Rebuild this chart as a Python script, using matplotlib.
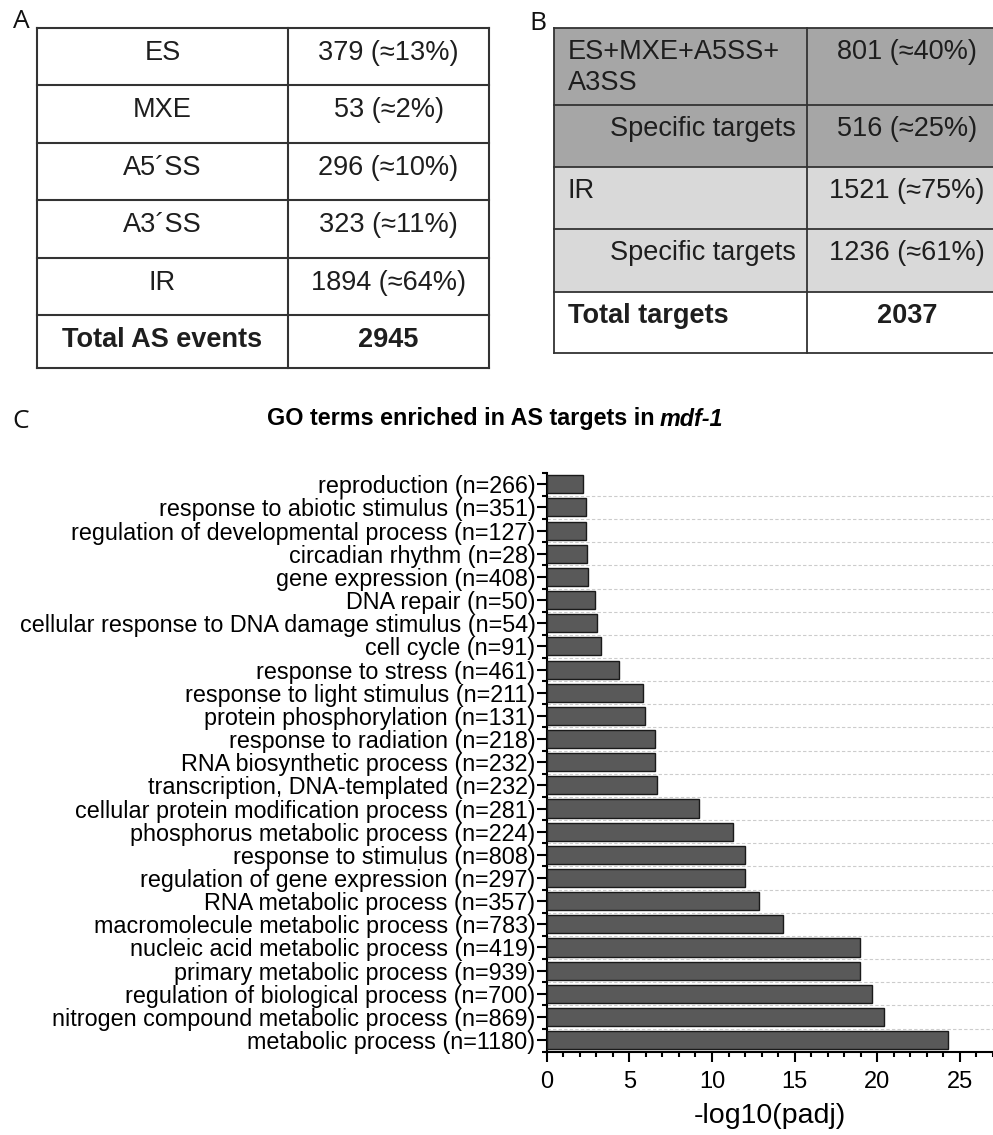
import numpy as np
import matplotlib.pyplot as plt
from matplotlib.patches import Rectangle
from matplotlib.ticker import MultipleLocator, FixedLocator

plt.rcParams['font.family'] = ['Liberation Sans', 'DejaVu Sans']

# panel A: AS events by type
events_a = ['ES', 'MXE', 'A5´SS', 'A3´SS', 'IR']
counts_a = ['379 (≈13%)', '53 (≈2%)', '296 (≈10%)', '323 (≈11%)', '1894 (≈64%)']
total_a = '2945'

# panel B: AS targets
labels_b = ['ES+MXE+A5SS+\nA3SS', 'Specific targets', 'IR', 'Specific targets']
counts_b = ['801 (≈40%)', '516 (≈25%)', '1521 (≈75%)', '1236 (≈61%)']
total_b = '2037'

# panel C: GO terms, top to bottom
go_terms = ['reproduction (n=266)', 'response to abiotic stimulus (n=351)',
            'regulation of developmental process (n=127)', 'circadian rhythm (n=28)',
            'gene expression (n=408)', 'DNA repair (n=50)',
            'cellular response to DNA damage stimulus (n=54)', 'cell cycle (n=91)',
            'response to stress (n=461)', 'response to light stimulus (n=211)',
            'protein phosphorylation (n=131)', 'response to radiation (n=218)',
            'RNA biosynthetic process (n=232)', 'transcription, DNA-templated (n=232)',
            'cellular protein modification process (n=281)',
            'phosphorus metabolic process (n=224)', 'response to stimulus (n=808)',
            'regulation of gene expression (n=297)', 'RNA metabolic process (n=357)',
            'macromolecule metabolic process (n=783)',
            'nucleic acid metabolic process (n=419)', 'primary metabolic process (n=939)',
            'regulation of biological process (n=700)',
            'nitrogen compound metabolic process (n=869)', 'metabolic process (n=1180)']
neg_log_padj = [2.2, 2.38, 2.4, 2.44, 2.48, 2.94, 3.02, 3.31, 4.37, 5.81, 5.97,
                6.55, 6.55, 6.65, 9.19, 11.25, 12.0, 12.0, 12.84, 14.27, 18.95,
                18.97, 19.66, 20.43, 24.26]

W, H = 993, 1135
fig = plt.figure(figsize=(W / 100, H / 100), dpi=100)

# pixel-space canvas for the two tables and panel letters
bg = fig.add_axes([0, 0, 1, 1])
bg.set_xlim(0, W)
bg.set_ylim(H, 0)
bg.axis('off')

txt = '#1e1e1e'
fs_tab = 19.5

# ---- table A
xa = [37, 288, 489]
ya = [28, 85, 143, 200, 258, 315, 368]
rows_a = list(zip(events_a, counts_a)) + [('Total AS events', total_a)]
for i, (name, val) in enumerate(rows_a):
    bold = 'bold' if i == len(rows_a) - 1 else 'normal'
    yt = ya[i] + 25
    bg.text((xa[0] + xa[1]) / 2, yt, name, ha='center', va='center',
            fontsize=fs_tab, fontweight=bold, color=txt)
    bg.text((xa[1] + xa[2]) / 2, yt, val, ha='center', va='center',
            fontsize=fs_tab, fontweight=bold, color=txt)
for y in ya:
    bg.plot([xa[0], xa[2]], [y, y], color='#333333', lw=1.5)
for x in xa:
    bg.plot([x, x], [ya[0], ya[-1]], color='#333333', lw=1.5)

# ---- table B
xb = [554, 807, 1010]
yb = [28, 105, 167, 229, 292, 353]
fills = ['#a6a6a6', '#a6a6a6', '#d9d9d9', '#d9d9d9', 'white']
for i in range(len(fills)):
    bg.add_patch(Rectangle((xb[0], yb[i]), xb[2] - xb[0], yb[i + 1] - yb[i],
                           facecolor=fills[i], edgecolor='none', zorder=0))
rows_b = list(zip(labels_b, counts_b)) + [('Total targets', total_b)]
for i, (name, val) in enumerate(rows_b):
    bold = 'bold' if i == len(rows_b) - 1 else 'normal'
    indent = 56 if name.startswith('Specific') else 14
    for j, line in enumerate(name.split('\n')):
        bg.text(xb[0] + indent, yb[i] + 24 + 31 * j, line, ha='left', va='center',
                fontsize=fs_tab, fontweight=bold, color=txt)
    bg.text(907, yb[i] + 24, val, ha='center', va='center',
            fontsize=fs_tab, fontweight=bold, color=txt)
for y in yb:
    bg.plot([xb[0], xb[2]], [y, y], color='#333333', lw=1.3)
for x in xb:
    bg.plot([x, x], [yb[0], yb[-1]], color='#333333', lw=1.3)

# panel letters
for lx, ly, lab in [(21, 22, 'A'), (538, 23, 'B'), (21, 422, 'C')]:
    bg.text(lx, ly, lab, ha='center', va='center', fontsize=19,
            family=['Open Sans', 'DejaVu Sans'], color='#111111')

# title with italic gene name
bg.text(655, 419, 'GO terms enriched in AS targets in', ha='right', va='center',
        fontsize=16.8, fontweight='bold')
bg.text(660, 419, 'mdf-1', ha='left', va='center', fontsize=16.8, fontweight='bold',
        style='italic')

# ---- panel C: bar chart
ax = fig.add_axes([546.7 / W, 1 - 1051.7 / H, (W - 546.7) / W, (1051.7 - 472.7) / H])
ypos = np.arange(len(go_terms))
ax.barh(ypos, neg_log_padj, height=0.78, color='#595959', edgecolor='#1a1a1a',
        linewidth=1.0, zorder=3)
ax.hlines(np.arange(0.5, len(go_terms) - 1, 1), 0, 27, colors='#cccccc',
          linestyles=(0, (3, 2)), lw=0.8, zorder=1)
ax.set_ylim(len(go_terms) - 0.5, -0.5)
ax.set_xlim(0, 27)

ax.set_yticks(ypos)
ax.set_yticklabels(go_terms, fontsize=16.8)
ax.yaxis.set_minor_locator(FixedLocator(np.arange(-0.5, len(go_terms), 1)))
ax.xaxis.set_major_locator(MultipleLocator(5))
ax.xaxis.set_minor_locator(MultipleLocator(1))
ax.tick_params(axis='both', which='major', length=7, width=1.5, direction='out')
ax.tick_params(axis='both', which='minor', length=3.5, width=1.5, direction='out')
ax.tick_params(axis='y', which='major', pad=1)
ax.tick_params(axis='x', which='major', labelsize=17, pad=7)
ax.set_xlabel('-log10(padj)', fontsize=20.5, labelpad=7)

for s in ['top', 'right']:
    ax.spines[s].set_visible(False)
for s in ['left', 'bottom']:
    ax.spines[s].set_linewidth(1.5)

fig.savefig('out.png', dpi=100)
